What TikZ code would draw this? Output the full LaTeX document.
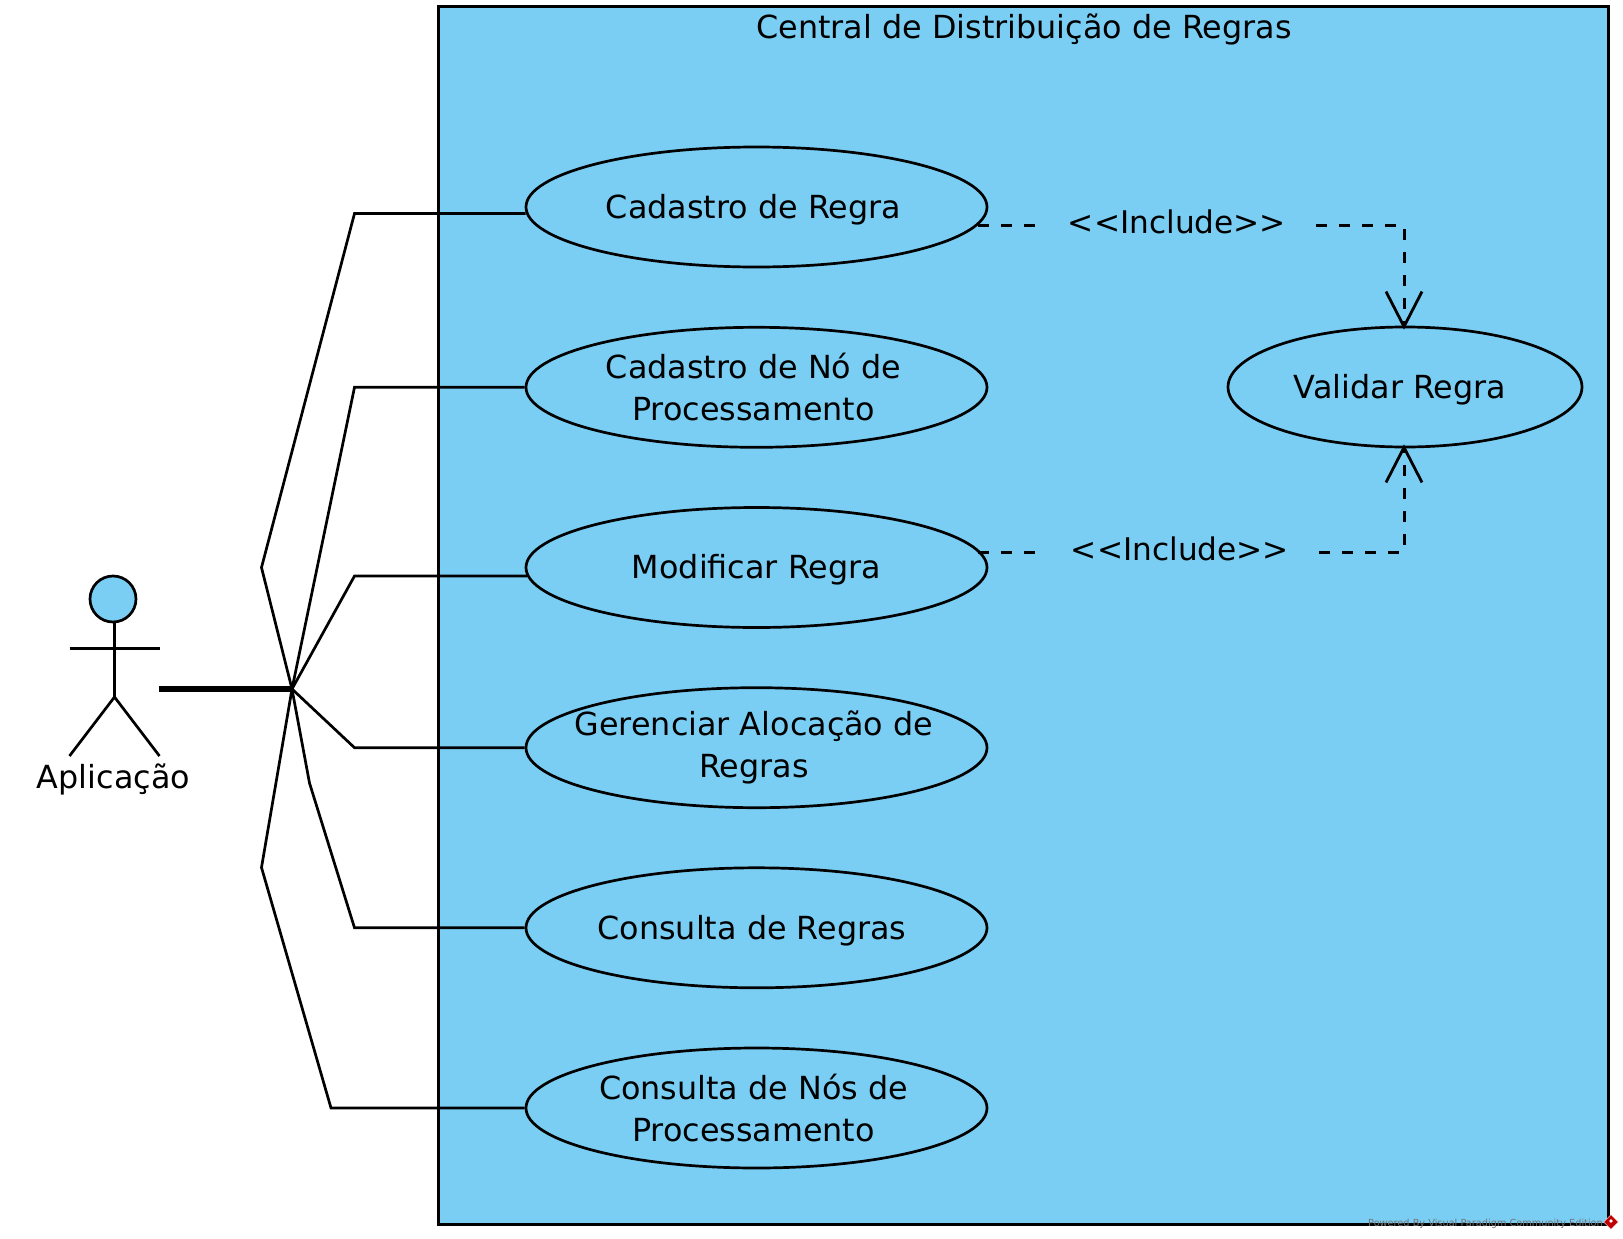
\documentclass[tikz,border=0pt]{standalone}
\usepackage{fontspec}
\setmainfont{DejaVu Sans}
\usetikzlibrary{shapes.geometric,arrows.meta}
\definecolor{vpblue}{RGB}{122,206,244}
\newcommand{\topl}{\rule{0pt}{30pt}}
\tikzset{
  usecase/.style={ellipse,draw=black,fill=vpblue,line width=2.7pt,minimum width=461pt,minimum height=120pt,inner sep=-25pt,align=center,font=\fontsize{31.8}{42.3}\selectfont},
  assoc/.style={draw=black,line width=2.7pt,line join=miter},
  incl/.style={draw=black,line width=3pt,dash pattern=on 11pt off 12pt},
  inclhead/.style={-{Straight Barb[length=35pt,width=36pt,line width=2.8pt]},shorten >=-4pt},
  incllabel/.style={inner sep=0pt,minimum width=278pt,font=\fontsize{31.2}{36}\selectfont},
  stick/.style={draw=black,line width=2.7pt},
}
\begin{document}
\begin{tikzpicture}[x=1pt,y=-1pt]
\useasboundingbox (0,0) rectangle (1623,1239);
\fill[white] (0,0) rectangle (1623,1239);
% system boundary
\draw[line width=3pt,fill=vpblue] (438,7) rectangle (1608,1224);
\node[anchor=base,font=\fontsize{31.8}{36}\selectfont] (title) at (1024,39) {Central de Distribuição de Regras};
% use cases
\node[usecase] (uc1) at (756.5,207) {\topl Cadastro de Regra\kern6pt};
\node[usecase] (uc2) at (756.5,387.3) {Cadastro de Nó de\kern6pt\\Processamento\kern6pt};
\node[usecase] (uc3) at (756.5,567.5) {\rule{0pt}{28pt}Modificar Regra};
\node[usecase] (uc4) at (756.5,747.7) {Gerenciar Alocação de\kern5pt\\Regras\kern5pt};
\node[usecase] (uc5) at (756.5,927.8) {\topl Consulta de Regras\kern9pt};
\node[usecase] (uc6) at (756.5,1108) {Consulta de Nós de\kern6pt\\Processamento\kern6pt};
\node[usecase,minimum width=354pt] (val) at (1405,387) {\topl Validar Regra\kern10pt};
% actor
\node[circle,draw=black,fill=vpblue,line width=2.7pt,minimum size=46pt,inner sep=0pt] (head) at (113,599) {};
\coordinate (neck) at (114.5,622);
\coordinate (armL) at (69.5,648.5);
\coordinate (armR) at (159.5,648.5);
\coordinate (hip) at (114.5,697);
\coordinate (legL) at (69.5,756);
\coordinate (legR) at (159.5,756);
\draw[stick] (neck) -- (hip);
\draw[stick] (armL) -- (armR);
\draw[stick] (legL) -- (hip) -- (legR);
\node[anchor=base,font=\fontsize{31.8}{36}\selectfont] (actor) at (113.5,788) {Aplicação};
% associations
\coordinate (start) at (159,689);
\coordinate (hub) at (292,689);
\coordinate (a1) at (354.5,213.5);
\coordinate (a2) at (354.5,387.3);
\coordinate (a3) at (354.5,576);
\coordinate (a4) at (354.5,747.7);
\coordinate (a5) at (354.5,927.8);
\coordinate (a6) at (331,1108);
\draw[draw=black,line width=5.5pt] (start) -- (hub);
\draw[assoc] (hub) -- (261.5,567.5) -- (a1) -- ([xshift=1pt]uc1.west |- a1);
\draw[assoc] (hub) -- (a2) -- (uc2.west);
\draw[assoc] (hub) -- (a3) -- ([xshift=2.4pt]uc3.west |- a3);
\draw[assoc] (hub) -- (a4) -- (uc4.west);
\draw[assoc] (hub) -- (309.5,783) -- (a5) -- (uc5.west);
\draw[assoc] (hub) -- (261.5,867.5) -- (a6) -- (uc6.west);
% includes
\node[incllabel,anchor=base] (inc1) at (1177,233) {<{}<Include>{}>};
\node[incllabel,anchor=base] (inc2) at (1180,560) {<{}<Include>{}>};
\coordinate (elb1) at (1404,225);
\coordinate (elb2) at (1404,552);
\draw[incl] ([xshift=-10pt]uc1.east |- elb1) -- (inc1.west |- elb1);
\draw[incl,inclhead] (inc1.east |- elb1) -- (elb1) -- (val.north -| elb1);
\draw[incl] ([xshift=-10pt]uc3.east |- elb2) -- (inc2.west |- elb2);
\draw[incl,inclhead] (inc2.east |- elb2) -- (elb2) -- (val.south -| elb2);
% watermark
\node[anchor=base west,inner sep=0pt,text=black!55,font=\fontsize{9.75}{12}\selectfont] (wm) at (1368,1226) {Powered By Visual Paradigm Community Edition};
\node[diamond,fill=red!75!black,draw=white,line width=0.5pt,minimum size=15pt,inner sep=0pt] (logo) at (1611,1222) {};
\node[diamond,fill=white,minimum size=4pt,inner sep=0pt] (logoin) at (1611,1221) {};
\end{tikzpicture}
\end{document}
